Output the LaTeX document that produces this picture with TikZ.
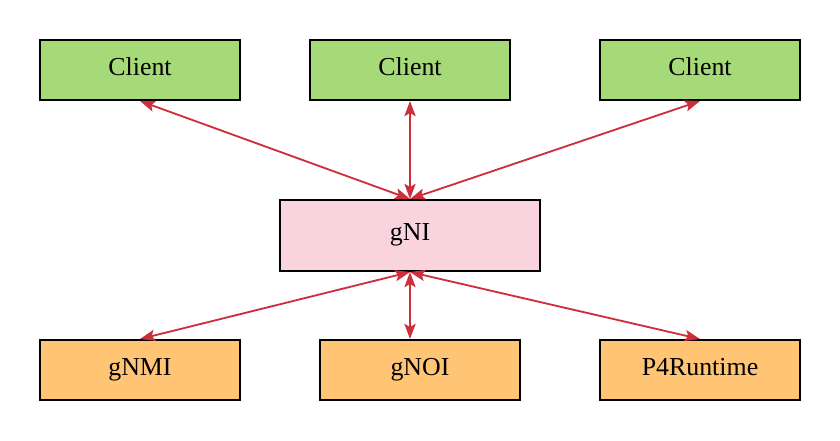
\documentclass[tikz,border=0pt]{standalone}
\usepackage{fontspec}
\setmainfont{Liberation Serif}
\usetikzlibrary{arrows.meta, positioning, calc}
\definecolor{clientgreen}{HTML}{A6DA78}
\definecolor{gnipink}{HTML}{F9D3DE}
\definecolor{svcorange}{HTML}{FFC574}
\definecolor{linkred}{HTML}{CC2E3C}

\begin{document}
\begin{tikzpicture}[x=0.025cm, y=-0.025cm,
    box/.style={draw=black, line width=1.4pt, minimum width=5cm, minimum height=1.5cm,
        inner sep=0pt, text height=13pt, text depth=5.2pt, font=\fontsize{18.4}{22}\selectfont},
    client/.style={box, fill=clientgreen},
    service/.style={box, fill=svcorange},
    link/.style={linkred, line width=1.3pt, {Stealth[length=3.8mm,width=2.8mm,inset=0.8mm]}-{Stealth[length=3.8mm,width=2.8mm,inset=0.8mm]}}]
\useasboundingbox (0,0) rectangle (840,440);

% Clients
\node[client] (c1) at (140,70) {Client};
\node[client] (c2) at (410,70) {Client};
\node[client] (c3) at (700,70) {Client};

% gNI
\node[box, fill=gnipink, minimum width=6.5cm, minimum height=1.775cm] (gni) at (410,235.5) {gNI};

% Services
\node[service] (gnmi) at (140,370) {gNMI};
\node[service] (gnoi) at (420,370) {gNOI};
\node[service] (p4rt) at (700,370) {P4Runtime};

% Links
\draw[link] (c1.south) -- (gni.north);
\draw[link] (c2.south) -- (gni.north);
\draw[link] (c3.south) -- (gni.north);
\draw[link] (gni.south) -- (gnmi.north);
\draw[link] (gni.south) -- (gnoi.north -| gni.south);
\draw[link] (gni.south) -- (p4rt.north);
\end{tikzpicture}
\end{document}
